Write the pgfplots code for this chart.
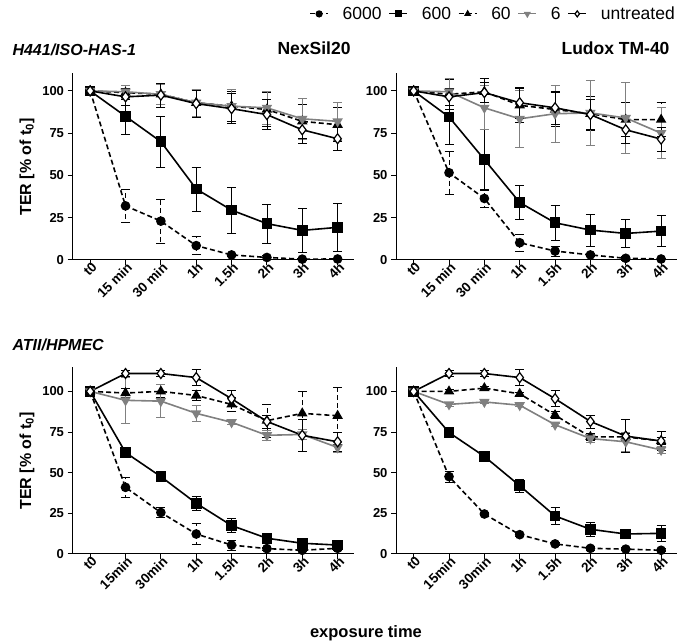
\documentclass[border=0pt]{standalone}
\usepackage{fontspec}
\setmainfont{Liberation Sans}
\usepackage{pgfplots}
\usepackage{pgfplotstable}
\pgfplotsset{compat=1.18}
\definecolor{tergray}{HTML}{808080}

% columns: t, 6000, 600, 60, 6, untreated (value and error)
\pgfplotstableread{
t a ea b eb c ec d ed u eu
0 100 0 100 0 100 0 100 0 100 0
1 32 9.7 85 11 99 4 99.5 4 96.5 5
2 23 13 70 15 98 6 98 6 97.5 7
3 8.5 5.4 42 13 93 8 93 8 92.5 8
4 3 1 29.5 13.5 91 9 91 10 89.5 9
5 1.5 1 21.5 11.5 89 10 90 10 86 9
6 0.5 0.5 17.5 13 82 10 83.5 12 77 8
7 0.6 0.5 19.3 14 80 10 82 11 71.7 7
}\tlTable
\pgfplotstableread{
t a ea b eb c ec d ed u eu
0 100 0 100 0 100 0 100 0 100 0
1 51.6 12.7 84.6 16 98 9 99.5 8 96.5 5
2 36.4 5 59.4 17.7 99.5 8 90 13 99 6
3 10.2 5 34 10 91.5 10 83.5 17 93 9
4 5.3 3 22 10.5 89 10 86.5 17 90 10
5 3 1 17.7 9.5 86.5 10 87 19 86 9
6 1 1 15.7 8.5 83 10 84 21 77 8
7 0.6 0.5 17.1 9 83 10 75 15 71.5 7
}\trTable
\pgfplotstableread{
t a ea b eb c ec d ed u eu
0 100 0 100 0 100 0 100 0 100 0
1 41 6 62.4 2 99 3 94.5 14 111 2
2 25.5 3 47.6 2 100 4 94 10 111 2
3 12.3 6.5 31.2 4.5 97.5 3 86.5 5 108.5 5
4 5.5 3 17.5 4.5 92 4 81 1.5 95.5 5
5 3.3 1 9.7 1.5 82 10 73 3 81.5 4
6 2.3 1 6.6 1 86.5 13.5 73.5 3 73 10
7 3.5 1 5.5 1 85 17.5 65.5 3 69 6
}\blTable
\pgfplotstableread{
t a ea b eb c ec d ed u eu
0 100 0 100 0 100 0 100 0 100 0
1 47.6 3.5 74.7 1 100 1 92 1 111 2
2 24.6 1 60 1 102 1 93.5 1 111 2
3 11.9 1 42 4 98.5 1 91.5 1 108.5 5
4 6.2 1 23.4 5.5 85.4 2 79.5 1 95.5 5
5 3.5 1 15.2 4.5 72 2 71 2.5 81.5 4
6 3 1 12.3 3 72 2 69 6 72.5 10
7 2.3 1 12.7 5 69.5 2 64 2 69.5 6
}\brTable

\pgfplotsset{
  panel/.style={
    scale only axis, width=281pt, height=187pt,
    xmin=-0.5, xmax=7.45, ymin=0,
    axis x line*=bottom, axis y line*=left,
    axis line style={black, line width=1pt},
    tick style={black, line width=1pt},
    tick align=outside, major tick length=5pt,
    xtick={0,...,7}, ytick={0,25,50,75,100},
    clip=false,
    /pgf/number format/assume math mode=true,
    tick label style={font=\bfseries\fontsize{13}{13}\selectfont},
    xticklabel style={rotate=45, anchor=east, inner sep=1pt, xshift=4pt, yshift=-3pt,
      font=\bfseries\fontsize{13.5}{13.5}\selectfont},
    error bars/y dir=both, error bars/y explicit,
    error bars/error bar style={line width=0.8pt},
    error bars/error mark options={rotate=90, mark size=4.5pt, line width=0.8pt},
  },
  s6000/.style={black, line width=1.6pt, dash pattern=on 5pt off 3pt, mark=*, mark size=4pt, mark options={solid}},
  s600/.style={black, line width=1.6pt, mark=square*, mark size=4.5pt, mark options={solid}},
  s60/.style={black, line width=1.6pt, dash pattern=on 5pt off 3pt, mark=triangle*, mark size=4.5pt, mark options={solid}},
  s6/.style={tergray, line width=1.6pt, mark=triangle*, mark size=4.5pt, mark options={solid, rotate=180}},
  sun/.style={black, line width=1.6pt, mark=diamond*, mark size=5pt, mark options={solid, fill=white, line width=1.2pt}},
}

\newcommand{\panelplots}[1]{%
  \addplot[s6000] table[x=t, y=a, y error=ea] {#1};
  \addplot[s600] table[x=t, y=b, y error=eb] {#1};
  \addplot[s60] table[x=t, y=c, y error=ec] {#1};
  \addplot[s6] table[x=t, y=d, y error=ed] {#1};
  \addplot[sun] table[x=t, y=u, y error=eu] {#1};
}

\begin{document}
\begin{tikzpicture}
\useasboundingbox (0,0) rectangle (685pt,642pt);

% top left: H441/ISO-HAS-1, NexSil20
\begin{axis}[panel, at={(72.5pt,382pt)}, anchor=south west, ymax=110.6,
  xticklabels={t0,15 min,30 min,1h,1.5h,2h,3h,4h},
  legend columns=5,
  legend style={at={(1.497,1.316)}, anchor=center, draw=none, fill=none,
    font=\fontsize{17.5}{17.5}\selectfont,
    /tikz/every even column/.append style={column sep=5pt},
    /tikz/every odd column/.append style={column sep=12pt}},
  legend image code/.code={
    \draw[mark repeat=2, mark phase=2, mark size=3pt, line width=1.2pt] plot coordinates {(0pt,0pt) (9pt,0pt) (18pt,0pt)};}
]
\panelplots{\tlTable}
\legend{6000,600,60,6,untreated}
\end{axis}

% top right: Ludox TM-40
\begin{axis}[panel, at={(396pt,382pt)}, anchor=south west, ymax=110.6,
  xticklabels={t0,15 min,30 min,1h,1.5h,2h,3h,4h}]
\panelplots{\trTable}
\end{axis}

% bottom left: ATII/HPMEC, NexSil20
\begin{axis}[panel, at={(72.5pt,88pt)}, anchor=south west, ymax=115,
  xticklabels={t0,15min,30min,1h,1.5h,2h,3h,4h}]
\panelplots{\blTable}
\end{axis}

% bottom right: Ludox TM-40
\begin{axis}[panel, at={(396pt,88pt)}, anchor=south west, ymax=115,
  xticklabels={t0,15min,30min,1h,1.5h,2h,3h,4h}]
\panelplots{\brTable}
\end{axis}

\node[anchor=west, font=\bfseries\itshape\fontsize{16}{16}\selectfont] at (9pt,592pt) {H441/ISO-HAS-1};
\node[anchor=west, font=\bfseries\itshape\fontsize{16}{16}\selectfont] at (9pt,297pt) {ATII/HPMEC};
\node[anchor=west, font=\bfseries\fontsize{17.5}{17.5}\selectfont] at (274pt,594pt) {NexSil20};
\node[anchor=east, font=\bfseries\fontsize{17.5}{17.5}\selectfont] at (673pt,594pt) {Ludox TM-40};
\node[rotate=90, font=\bfseries\fontsize{16}{16}\selectfont] at (27pt,475pt) {TER [\% of t\textsubscript{0}]};
\node[rotate=90, font=\bfseries\fontsize{16}{16}\selectfont] at (27pt,181pt) {TER [\% of t\textsubscript{0}]};
\node[font=\bfseries\fontsize{16.5}{16.5}\selectfont] at (366pt,9pt) {exposure time};
\end{tikzpicture}
\end{document}
